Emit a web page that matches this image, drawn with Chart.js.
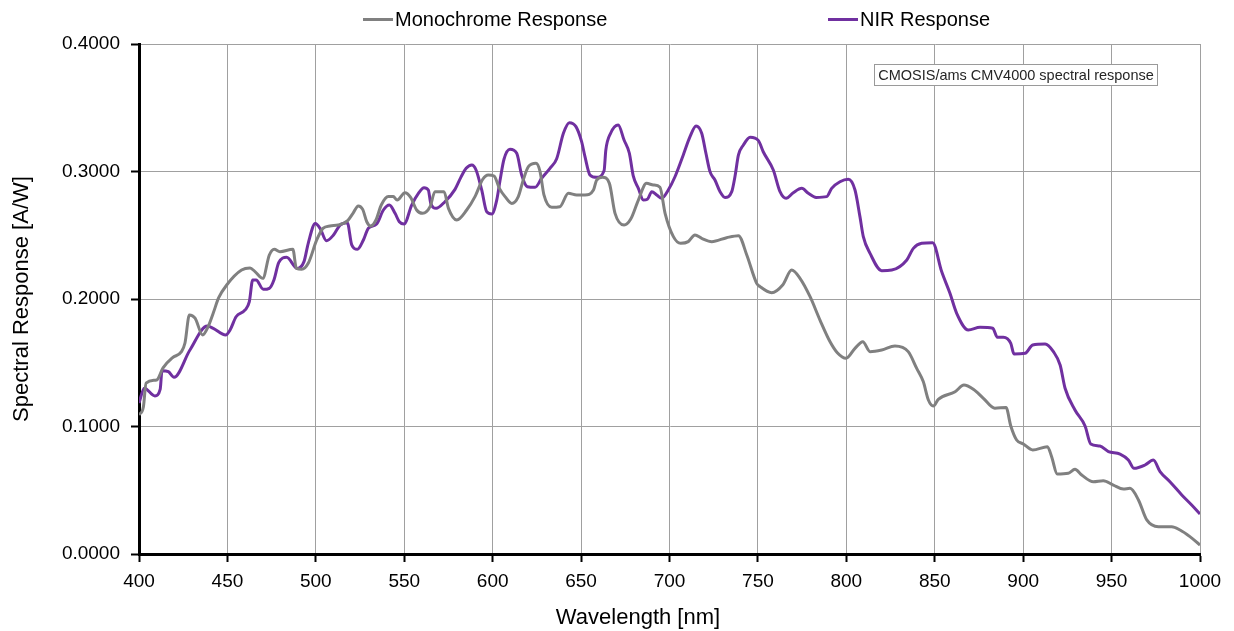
<!DOCTYPE html>
<html>
<head>
<meta charset="utf-8">
<script src="https://cdn.jsdelivr.net/npm/chart.js@4/dist/chart.umd.min.js"></script>
<style>
html,body{margin:0;padding:0;background:#fff;}
#wrap{position:relative;width:1234px;height:631px;}
</style>
</head>
<body>
<div id="wrap"><canvas id="c"></canvas></div>
<script>
// ---- data (wavelength in nm, response in A/W) ----
const monoNm = [400,402.5,404,410,413.6,419,424,426,428.5,431.7,436,439,442,445,449.6,458,462.8,465.6,470,473.7,476.5,479.7,487,489,492,495.7,500.5,504,508,512.7,518,521,524,526.5,528.8,531,534,537,541,543.8,546,550.4,553.6,557,560.4,564.6,567.4,572.5,575,579.7,585.3,590,594.4,597.5,600.8,603.8,607,610.8,614.5,617.3,620.2,624.5,626.8,629,633.4,638,642.8,647.5,652.2,657,658.8,662.2,666,669.2,674.3,678,682.4,687,690.9,694.6,697.5,702.2,706.3,710.6,714.4,718.2,723.9,732.3,739,743.7,749.3,751.2,757.8,764,769.1,773.8,779.5,785.1,790.8,794.9,799.8,804.9,809.3,813.4,820,827.5,835,839.8,843.5,846.4,849.2,852,861.5,866.5,871.8,877.5,884,890.3,893,896.3,900.1,905.4,913.7,916.1,919.3,925.5,929.3,933.1,939.7,945.3,951,956.7,960.4,965.2,969.9,976.5,984,988.7,994.3,1000];
const monoVal = [0.109,0.1155,0.134,0.1365,0.146,0.154,0.1587,0.1655,0.1875,0.185,0.1718,0.178,0.189,0.2008,0.211,0.2227,0.2243,0.2215,0.2162,0.2345,0.239,0.2371,0.239,0.224,0.2233,0.228,0.2463,0.2554,0.2573,0.258,0.2615,0.2672,0.273,0.2703,0.2606,0.2573,0.262,0.2737,0.2803,0.2803,0.2776,0.2834,0.2797,0.2698,0.2672,0.2724,0.2842,0.2842,0.2711,0.262,0.2698,0.2803,0.2939,0.2973,0.2965,0.2868,0.2803,0.275,0.2803,0.2933,0.3038,0.3064,0.2999,0.2816,0.2719,0.2724,0.2829,0.2816,0.2816,0.2855,0.2933,0.2954,0.2907,0.2672,0.258,0.2625,0.2776,0.2907,0.2894,0.2876,0.2672,0.2489,0.2437,0.245,0.2502,0.2476,0.245,0.2481,0.2497,0.2345,0.2123,0.2097,0.205,0.211,0.2227,0.2162,0.2018,0.1835,0.1665,0.1579,0.1535,0.1613,0.1665,0.1587,0.16,0.1631,0.1587,0.1456,0.1352,0.1208,0.1161,0.1213,0.1273,0.1325,0.1292,0.1221,0.1143,0.115,0.1004,0.0894,0.0863,0.0816,0.0842,0.0763,0.0627,0.0633,0.0664,0.062,0.0567,0.0575,0.0541,0.051,0.0515,0.0424,0.0267,0.0214,0.0214,0.0188,0.0136,0.007];

const nirNm = [400,403,409,412,413,416.6,419.8,428.8,438.6,442,449,451.5,454.9,460,462.4,464.3,466.2,470.3,473.7,476.3,479,483.5,489.5,493.3,495.7,499.7,502.4,506,510,513.7,517.8,520.3,523.5,526.9,529.7,534.4,538.2,541.6,544.8,547.2,549.9,554.2,558,561.2,563.6,565,568,573,578.7,582,585,588.2,590.6,593.8,596.6,599.5,602.3,604.2,606.4,609.8,613.6,616.4,619.6,624,627.7,632.4,636.2,640,643.4,647.1,650.3,652.2,655,658.8,663,664,666.7,671,674.3,677.3,679.5,682.4,685.2,687.5,690,692.8,695.6,699.3,703.1,707.8,711.6,715,718.2,720.6,722.9,725.7,728.6,731.4,735.2,737,739,741.8,745.6,750.3,753,758.7,762.5,765.9,770,774.8,778.5,782.9,788.9,791.7,796.4,801.1,804.9,807.7,809.6,813.4,820,825.7,834.2,837.9,842.6,848.8,853.9,858.6,862.4,869,875.6,882.8,885.4,888.8,893,894.8,901.1,905.4,912.4,917.1,920.9,923.7,929.3,935,938.2,943.4,948.2,954.8,959.5,962.7,968.9,973.6,977.4,983,989.7,995.3,1000];
const nirVal = [0.1184,0.130,0.124,0.1294,0.1438,0.143,0.1386,0.16,0.1788,0.177,0.1718,0.1757,0.1861,0.1914,0.1979,0.2149,0.2149,0.2076,0.2084,0.2149,0.2285,0.2327,0.224,0.2293,0.2437,0.2593,0.2554,0.2457,0.2502,0.258,0.2599,0.2424,0.239,0.2463,0.2555,0.2588,0.2698,0.2737,0.2672,0.2606,0.2588,0.2737,0.2829,0.2873,0.2855,0.275,0.2711,0.2763,0.286,0.2954,0.3025,0.3051,0.3012,0.2855,0.2685,0.2667,0.2776,0.2933,0.3096,0.3174,0.3143,0.2973,0.2881,0.2876,0.2947,0.3025,0.310,0.330,0.3383,0.3352,0.3234,0.3116,0.2973,0.2954,0.3006,0.3169,0.330,0.3365,0.3247,0.3143,0.2965,0.2868,0.2776,0.2782,0.2842,0.2816,0.279,0.2855,0.2959,0.313,0.3273,0.3357,0.330,0.3143,0.2999,0.2933,0.2842,0.2797,0.2842,0.2959,0.313,0.3208,0.3268,0.3242,0.3155,0.3012,0.2842,0.279,0.2834,0.2868,0.2829,0.2797,0.2803,0.2868,0.292,0.2939,0.2855,0.2646,0.2489,0.2358,0.2222,0.2227,0.2306,0.2397,0.2437,0.2442,0.2215,0.2045,0.1888,0.1757,0.1778,0.177,0.17,0.17,0.1652,0.1569,0.1574,0.1639,0.1647,0.1587,0.1482,0.13,0.1129,0.1004,0.0863,0.0847,0.0803,0.0784,0.0737,0.0672,0.0698,0.0737,0.0646,0.0567,0.0463,0.0384,0.0314];

const seriesNames = ['Monochrome Response', 'NIR Response'];
const xTicks = [400,450,500,550,600,650,700,750,800,850,900,950,1000];
const yTicks = [0, 0.1, 0.2, 0.3, 0.4];
const xTitle = 'Wavelength [nm]';
const yTitle = 'Spectral Response [A/W]';
const noteText = 'CMOSIS/ams CMV4000 spectral response';

const colors = ['#808080', '#7030a0'];
const FONT = '"Liberation Sans", Arial, sans-serif';

const toPts = (xs, ys) => xs.map((x, i) => ({x: x, y: ys[i]}));

const overlay = {
  id: 'overlay',
  afterDraw(chart) {
    const ctx = chart.ctx;
    const area = chart.chartArea;
    ctx.save();
    // legend
    ctx.font = '20px ' + FONT;
    ctx.textBaseline = 'middle';
    ctx.textAlign = 'left';
    const items = [{x: 363, name: seriesNames[0], c: colors[0]}, {x: 828, name: seriesNames[1], c: colors[1]}];
    items.forEach(it => {
      ctx.strokeStyle = it.c;
      ctx.lineWidth = 3;
      ctx.beginPath();
      ctx.moveTo(it.x, 19.5);
      ctx.lineTo(it.x + 30, 19.5);
      ctx.stroke();
      ctx.fillStyle = '#000';
      ctx.fillText(it.name, it.x + 32, 20);
    });
    // note box
    const bx = 874.5, by = 64.5, bw = 283, bh = 21;
    ctx.fillStyle = '#fff';
    ctx.fillRect(bx, by, bw, bh);
    ctx.strokeStyle = '#9a9a9a';
    ctx.lineWidth = 1;
    ctx.strokeRect(bx, by, bw, bh);
    ctx.fillStyle = '#262626';
    ctx.font = '14.5px ' + FONT;
    ctx.textAlign = 'center';
    ctx.fillText(noteText, bx + bw / 2, by + bh / 2 + 0.5);
    // x axis title
    ctx.fillStyle = '#000';
    ctx.font = '22px ' + FONT;
    ctx.textAlign = 'center';
    ctx.fillText(xTitle, 638, 618);
    ctx.restore();
  }
};

new Chart(document.getElementById('c'), {
  type: 'line',
  data: {
    datasets: [
      {label: seriesNames[0], data: toPts(monoNm, monoVal), borderColor: colors[0], backgroundColor: colors[0], borderWidth: 3, pointRadius: 0, cubicInterpolationMode: 'monotone', fill: false},
      {label: seriesNames[1], data: toPts(nirNm, nirVal), borderColor: colors[1], backgroundColor: colors[1], borderWidth: 3, pointRadius: 0, cubicInterpolationMode: 'monotone', fill: false}
    ]
  },
  options: {
    responsive: true,
    maintainAspectRatio: false,
    animation: false,
    layout: {padding: {top: 44, right: 34, bottom: 0, left: 0}},
    plugins: {legend: {display: false}, tooltip: {enabled: false}},
    scales: {
      x: {
        type: 'linear', min: 400, max: 1000,
        afterBuildTicks: s => { s.ticks = xTicks.map(v => ({value: v})); },
        afterFit: s => { s.height = 77; },
        grid: {color: '#a0a0a0', lineWidth: 1, drawTicks: true, tickLength: 8, tickColor: '#000', tickWidth: 2},
        border: {color: '#000', width: 3},
        ticks: {color: '#000', font: {family: FONT, size: 19}, padding: 8, maxRotation: 0, autoSkip: false, callback: v => String(v)},
        title: {display: false}
      },
      y: {
        min: 0, max: 0.4,
        afterBuildTicks: s => { s.ticks = yTicks.map(v => ({value: v})); },
        afterFit: s => { s.width = 139; },
        grid: {color: '#a0a0a0', lineWidth: 1, drawTicks: true, tickLength: 8, tickColor: '#000', tickWidth: 2},
        border: {color: '#000', width: 3},
        ticks: {color: '#000', font: {family: FONT, size: 19}, padding: 11, callback: v => Number(v).toFixed(4)},
        title: {display: true, text: yTitle, color: '#000', font: {family: FONT, size: 22}, padding: {top: 9, bottom: 0}}
      }
    }
  },
  plugins: [overlay]
});
</script>
</body>
</html>
